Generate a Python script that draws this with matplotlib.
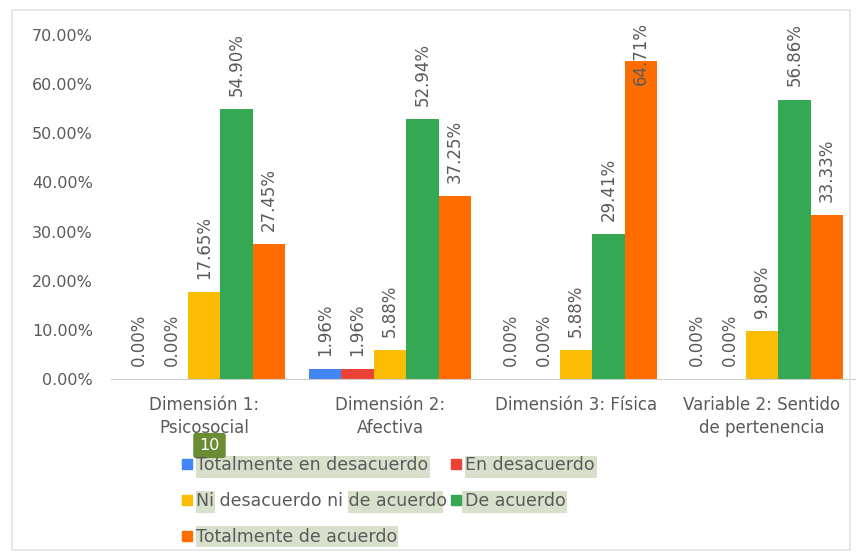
import numpy as np
from matplotlib import pyplot as plt
from matplotlib.patches import Rectangle, FancyBboxPatch
from matplotlib.lines import Line2D
import matplotlib.ticker as ticker

plt.rcParams["font.family"] = ["DejaVu Sans"]

categories = [
    "Dimensión 1:\nPsicosocial",
    "Dimensión 2:\nAfectiva",
    "Dimensión 3: Física",
    "Variable 2: Sentido\nde pertenencia",
]
series_names = [
    "Totalmente en desacuerdo",
    "En desacuerdo",
    "Ni desacuerdo ni de acuerdo",
    "De acuerdo",
    "Totalmente de acuerdo",
]
# percentages per series, one value per category
tot_desacuerdo = [0.00, 1.96, 0.00, 0.00]
en_desacuerdo = [0.00, 1.96, 0.00, 0.00]
ni_ni = [17.65, 5.88, 5.88, 9.80]
de_acuerdo = [54.90, 52.94, 29.41, 56.86]
tot_acuerdo = [27.45, 37.25, 64.71, 33.33]

series = [tot_desacuerdo, en_desacuerdo, ni_ni, de_acuerdo, tot_acuerdo]
colors = ["#4285F4", "#EA4335", "#FBBC04", "#34A853", "#FF6D01"]
text_color = "#5a5a5a"

W, H = 864, 558
fig = plt.figure(figsize=(W / 100, H / 100), dpi=100)


def px(x, y):
    return x / W, 1 - y / H


# light frame round the chart
fig.patches.append(Rectangle(px(12, 550), (850 - 12) / W, (550 - 10) / H,
                             transform=fig.transFigure, fill=False,
                             edgecolor="#e4e4e4", lw=1.2))

ax = fig.add_axes([111 / W, 1 - 379 / H, 744 / W, 344 / H])
x = np.arange(len(categories))
bw = 0.175
for j, vals in enumerate(series):
    vals = np.array(vals) / 100
    pos = x + (j - 2) * bw
    ax.bar(pos, vals, width=bw, color=colors[j], label=series_names[j], zorder=3)
    for xp, v in zip(pos, vals):
        y = min(v + 0.027, 0.598)
        ax.text(xp, y, "{:.2f}%".format(v * 100), rotation=90, ha="center",
                va="bottom", fontsize=12, color=text_color, zorder=4)

ax.set_ylim(0, 0.70)
ax.set_xlim(-0.5, len(categories) - 0.5)
ax.yaxis.set_major_locator(ticker.MultipleLocator(0.10))
ax.yaxis.set_major_formatter(ticker.FuncFormatter(lambda v, p: "{:.2f}%".format(v * 100)))
ax.set_xticks(x)
ax.set_xticklabels(categories, linespacing=1.35)
ax.tick_params(axis="both", length=0, labelcolor=text_color)
ax.tick_params(axis="y", pad=13, labelsize=11.5)
ax.tick_params(axis="x", pad=12, labelsize=12)
for s in ["top", "right", "left"]:
    ax.spines[s].set_visible(False)
ax.spines["bottom"].set_color("#cccccc")
ax.spines["bottom"].set_zorder(5)

# highlighted spans behind the legend text
hl = "#d7e0ca"
for x0, y0, x1, y1 in [(196, 456, 430, 478), (465, 456, 597, 478),
                       (196, 491, 215, 513), (348, 491, 443, 513),
                       (462, 491, 567, 513), (196, 526, 398, 547)]:
    fig.patches.append(Rectangle(px(x0, y1), (x1 - x0) / W, (y1 - y0) / H,
                                 transform=fig.transFigure, color=hl, lw=0, zorder=0))

handles = [Line2D([], [], marker="s", ls="", markersize=6.5, color=c) for c in colors]
order = [0, 2, 4, 1, 3]
leg = fig.legend([handles[i] for i in order], [series_names[i] for i in order],
                 loc="upper left", bbox_to_anchor=px(182, 456), ncol=2,
                 frameon=False, fontsize=12.5, handlelength=0.55, handletextpad=0.25,
                 labelspacing=1.05, columnspacing=0.25, borderaxespad=0,
                 borderpad=0)
for t in leg.get_texts():
    t.set_color(text_color)

# numbered tag over the legend
fig.patches.append(FancyBboxPatch(px(195, 457), 29 / W, 23 / H,
                                  boxstyle="round,pad=0.002,rounding_size=0.004",
                                  transform=fig.transFigure, color="#6a8c32", lw=0))
fig.text(*px(209.5, 445.5), "10", color="white", fontsize=11.5, ha="center", va="center")

fig.savefig("out.png", dpi=100)
